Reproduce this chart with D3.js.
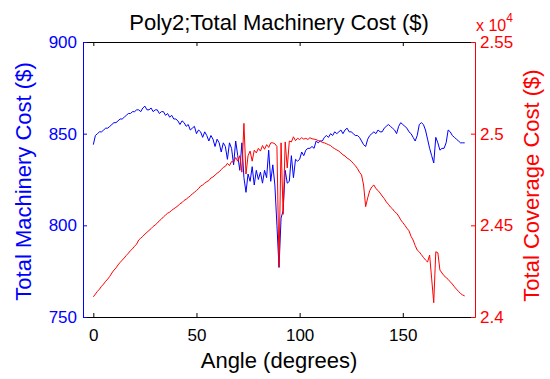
<!DOCTYPE html>
<html><head><meta charset="utf-8">
<script src="https://cdn.jsdelivr.net/npm/d3@7"></script>
<style>body{margin:0;background:#fff}svg{display:block;font-family:"Liberation Sans",Arial,sans-serif}</style>
</head><body><svg id="c" width="550" height="379"></svg>
<script>
const angles = d3.range(0, 181);
const machinery = [
844,849,850,851,851,852,853,853,854,855,
856,856,857,858,858,859,860,861,861,862,
862,863,863,862,864,865,863,863,864,862,
863,863,861,862,862,860,861,859,860,858,
858,857,855,857,856,854,855,852,853,854,
850,852,851,848,851,849,846,849,847,843,
847,845,840,845,843,836,845,842,833,846,
838,830,845,826,818,828,824,832,822,830,
825,829,823,830,826,841,824,833,822,800,
777,804,808,830,823,824,838,826,836,835,
836,840,838,841,842,842,843,842,846,845,
846,846,848,849,848,850,849,851,850,851,
852,850,852,853,851,851,850,849,849,848,
846,844,843,847,849,850,851,850,852,851,
851,853,854,855,854,853,852,850,854,856,
855,854,853,851,850,848,846,849,855,856,
855,852,847,842,838,834,848,845,841,842,
842,845,852,851,849,848,847,846,845,845,
845];
const coverage = [
24110,24125,24140,24152,24168,24180,24195,24207,24222,24240,
24256,24268,24284,24298,24310,24322,24336,24348,24362,24372,
24386,24398,24420,24430,24440,24452,24462,24472,24482,24494,
24502,24512,24525,24534,24546,24556,24566,24572,24582,24590,
24598,24606,24618,24624,24636,24642,24652,24660,24672,24680,
24690,24700,24714,24720,24730,24738,24744,24758,24764,24774,
24784,24792,24804,24816,24822,24838,24826,24848,24845,24870,
24850,24880,24790,25056,24780,24880,24905,24850,24910,24895,
24920,24905,24935,24915,24940,24925,24950,24950,24945,24930,
24274,24950,24560,24955,24813,24960,24955,24983,24962,24975,
24968,24978,24970,24975,24968,24978,24972,24970,24968,24962,
24960,24952,24950,24945,24940,24935,24925,24918,24911,24905,
24895,24885,24878,24867,24860,24850,24838,24825,24810,24790,
24775,24720,24602,24650,24690,24710,24720,24700,24690,24676,
24660,24646,24628,24615,24600,24590,24575,24566,24550,24530,
24515,24500,24484,24470,24440,24420,24390,24365,24355,24340,
24325,24311,24300,24338,24208,24078,24356,24350,24256,24240,
24225,24215,24205,24192,24180,24165,24152,24140,24128,24120,
24115];
const xTicks = [0, 50, 100, 150];
const leftTicks = [750, 800, 850, 900];
const rightTicks = [24000, 24500, 25000, 25500];
const rightTickLabels = ["2.4", "2.45", "2.5", "2.55"];
const titleText = "Poly2;Total Machinery Cost ($)";
const xLabelText = "Angle (degrees)";
const leftLabelText = "Total Machinery Cost ($)";
const rightLabelText = "Total Coverage Cost ($)";

const BLUE = "#0000ff", RED = "#ff0000";
const L = 83, R = 475, T = 42, B = 317;
const svg = d3.select("#c");
const x = d3.scaleLinear().domain([-5, 185]).range([L, R]);
const yL = d3.scaleLinear().domain([750, 900]).range([B, T]);
const yR = d3.scaleLinear().domain([24000, 25500]).range([B, T]);

const lineL = d3.line().x((d, i) => x(angles[i])).y(d => yL(d));
const lineR = d3.line().x((d, i) => x(angles[i])).y(d => yR(d));

svg.append("path").attr("d", lineL(machinery)).attr("fill", "none").attr("stroke", BLUE).attr("stroke-width", 1);
svg.append("path").attr("d", lineR(coverage)).attr("fill", "none").attr("stroke", RED).attr("stroke-width", 1);

function styleAxis(g, color) {
  g.attr("color", color).attr("font-size", 17).attr("font-family", '"Liberation Sans",Arial,sans-serif');
  g.selectAll("text").attr("fill", color);
}
svg.append("g").attr("transform", `translate(0,${T})`)
  .call(d3.axisTop(x).tickValues(xTicks).tickSize(-4).tickSizeOuter(0).tickFormat(""))
  .call(g => styleAxis(g, "#000"));
svg.append("g").attr("transform", `translate(0,${B})`)
  .call(d3.axisBottom(x).tickValues(xTicks).tickSize(-4).tickSizeOuter(0).tickPadding(12))
  .call(g => styleAxis(g, "#000"));
svg.append("g").attr("transform", `translate(${L},0)`)
  .call(d3.axisLeft(yL).tickValues(leftTicks).tickSize(-4).tickSizeOuter(0).tickPadding(6))
  .call(g => styleAxis(g, BLUE));
svg.append("g").attr("transform", `translate(${R},0)`)
  .call(d3.axisRight(yR).tickValues(rightTicks).tickSize(-4).tickSizeOuter(0).tickPadding(5)
    .tickFormat((d, i) => rightTickLabels[i]))
  .call(g => styleAxis(g, RED));

svg.append("text").attr("x", (L + R) / 2).attr("y", 30).attr("text-anchor", "middle")
  .attr("font-size", 22).attr("fill", "#000").text(titleText);
svg.append("text").attr("x", (L + R) / 2).attr("y", 368).attr("text-anchor", "middle")
  .attr("font-size", 22).attr("fill", "#000").text(xLabelText);
svg.append("text").attr("transform", `translate(31,${(T + B) / 2 + 2}) rotate(-90)`).attr("text-anchor", "middle")
  .attr("font-size", 22).attr("fill", BLUE).text(leftLabelText);
svg.append("text").attr("transform", `translate(539,${(T + B) / 2 + 6}) rotate(-90)`).attr("text-anchor", "middle")
  .attr("font-size", 22).attr("fill", RED).text(rightLabelText);
const ex = svg.append("text").attr("x", 476).attr("y", 31).attr("font-size", 16).attr("fill", RED);
ex.append("tspan").text("x 10");
ex.append("tspan").attr("dy", -9).attr("font-size", 12).text("4");
</script></body></html>
